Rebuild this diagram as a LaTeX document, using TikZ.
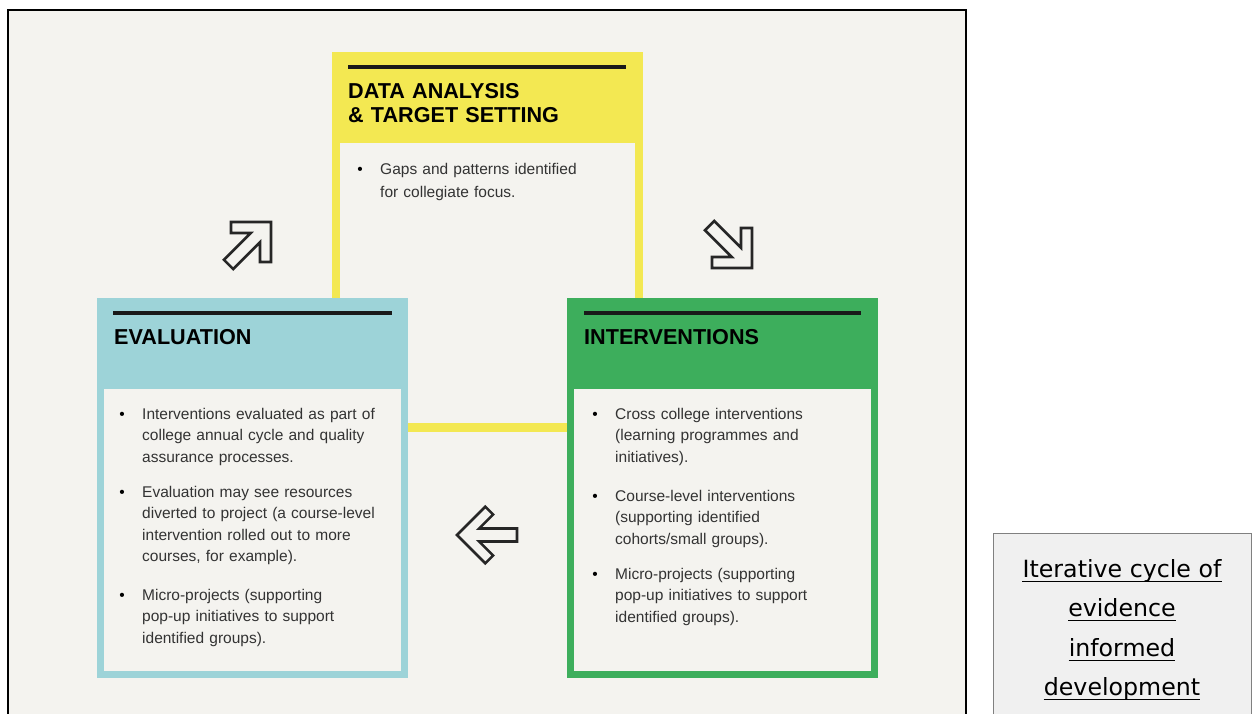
\documentclass[tikz,border=0pt]{standalone}
\usepackage{fontspec}
\setmainfont{Liberation Sans}
\newfontfamily\captionfont{DejaVu Sans}
\usetikzlibrary{calc}

\definecolor{framebg}{HTML}{F4F3EF}
\definecolor{dayellow}{HTML}{F3E852}
\definecolor{evblue}{HTML}{9DD3D8}
\definecolor{ingreen}{HTML}{3DAE5C}
\definecolor{bodygray}{HTML}{333333}
\definecolor{captionbg}{HTML}{F0F0F0}

\tikzset{
    heading/.style={anchor=base west, inner sep=0pt, text width=300pt, align=left,
        font=\fontsize{21.6}{24}\selectfont\bfseries, text=black},
    itemtext/.style={anchor=base west, inner sep=0pt, text width=262pt, align=left,
        font=\fontsize{15.5}{21.5}\selectfont, text=bodygray},
    itemdot/.style={anchor=base, inner sep=0pt, font=\fontsize{15.5}{21.5}\selectfont},
    headrule/.style={line width=3.5pt, black!90},
    arrowline/.style={line width=2.6pt, black!85, line join=miter},
    captionline/.style={anchor=base, inner sep=0pt, font=\captionfont\fontsize{23.7}{39}\selectfont},
    % open double-line arrow, tip at the origin, pointing east
    cyclearrow/.pic={
        \draw[arrowline] (0,0) -- (-28.3,28.3) -- (-36.1,20.5) -- (-22.1,6.5)
            -- (-60,6.5) -- (-60,-6.5) -- (-22.1,-6.5) -- (-36.1,-20.5)
            -- (-28.3,-28.3) -- cycle;
    }
}

\begin{document}
\begin{tikzpicture}[x=1pt, y=-1pt]
    \clip (0,0) rectangle (1252,713);
    \fill[white] (0,0) rectangle (1252,713);

    % outer frame
    \fill[framebg] (8,10) rectangle (966,730);
    \draw[line width=2pt, black] (8,10) rectangle (966,730);

    % panels
    \fill[dayellow] (332,52) rectangle (643,432);
    \fill[framebg] (340,143) rectangle (635,423);
    \fill[evblue] (97,298) rectangle (408,678);
    \fill[framebg] (104,389) rectangle (401,671);
    \fill[ingreen] (567,298) rectangle (878,678);
    \fill[framebg] (574,389) rectangle (871,671);

    % rules above the headings
    \draw[headrule] (348,67) -- (626,67);
    \draw[headrule] (113,313) -- (392,313);
    \draw[headrule] (584,313) -- (861,313);

    % headings
    \node[heading] (analysishead) at (348,98) {DATA ANALYSIS\\\& TARGET SETTING};
    \node[heading] (evalhead) at (114,344) {EVALUATION};
    \node[heading] (intervhead) at (584,344) {INTERVENTIONS};

    % data analysis items
    \node[itemdot] (a1dot) at (360,174) {\textbullet};
    \node[itemtext, font=\fontsize{15.5}{23}\selectfont] (a1) at (380,174)
        {Gaps and patterns identified\\for collegiate focus.};

    % evaluation items
    \node[itemdot] (e1dot) at (122,419) {\textbullet};
    \node[itemtext] (e1) at (142,419)
        {Interventions evaluated as part of\\college annual cycle and quality\\assurance processes.};
    \node[itemdot] (e2dot) at (122,497) {\textbullet};
    \node[itemtext] (e2) at (142,497)
        {Evaluation may see resources\\diverted to project (a course-level\\intervention rolled out to more\\courses, for example).};
    \node[itemdot] (e3dot) at (122,600) {\textbullet};
    \node[itemtext] (e3) at (142,600)
        {Micro-projects (supporting\\pop-up initiatives to support\\identified groups).};

    % intervention items
    \node[itemdot] (i1dot) at (595,419) {\textbullet};
    \node[itemtext] (i1) at (615,419)
        {Cross college interventions\\(learning programmes and\\initiatives).};
    \node[itemdot] (i2dot) at (595,501) {\textbullet};
    \node[itemtext] (i2) at (615,501)
        {Course-level interventions\\(supporting identified\\cohorts/small groups).};
    \node[itemdot] (i3dot) at (595,579) {\textbullet};
    \node[itemtext] (i3) at (615,579)
        {Micro-projects (supporting\\pop-up initiatives to support\\identified groups).};

    % cycle arrows
    \pic[rotate=45] at (271,222) {cyclearrow};
    \pic[rotate=-45] at (752,268) {cyclearrow};
    \pic[rotate=180] at (457,535) {cyclearrow};

    % caption box
    \draw[fill=captionbg, draw=black!50, line width=1pt] (993,533) rectangle (1251,730);
    \node[captionline] (cap1) at (1122,577) {Iterative cycle of};
    \node[captionline] (cap2) at (1122,616) {evidence};
    \node[captionline] (cap3) at (1122,656) {informed};
    \node[captionline] (cap4) at (1122,695) {development};
    \draw[line width=1.4pt] ($(cap1.base west)+(0,4.5)$) -- ($(cap1.base east)+(0,4.5)$);
    \draw[line width=1.4pt] ($(cap2.base west)+(0,4.5)$) -- ($(cap2.base east)+(0,4.5)$);
    \draw[line width=1.4pt] ($(cap3.base west)+(0,4.5)$) -- ($(cap3.base east)+(0,4.5)$);
    \draw[line width=1.4pt] ($(cap4.base west)+(0,4.5)$) -- ($(cap4.base east)+(0,4.5)$);
\end{tikzpicture}
\end{document}
